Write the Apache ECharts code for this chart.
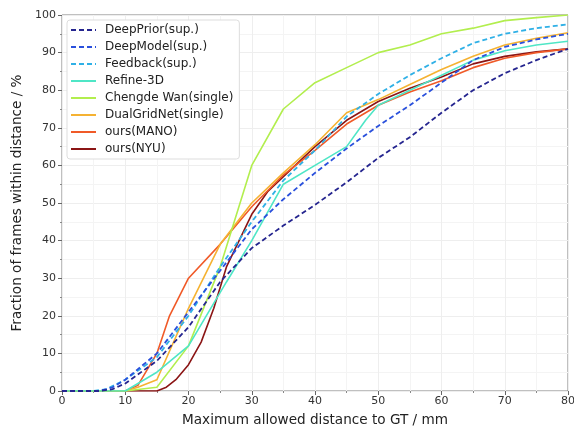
<!DOCTYPE html>
<html lang="en">
<head>
    <meta charset="UTF-8">
    <title>PCK curves</title>
    <script src="https://cdn.jsdelivr.net/npm/echarts@6/dist/echarts.min.js"></script>
    <style>
        *{ margin: 0; padding: 0; }
        body{ width: 574px; height: 428px; overflow: hidden; background: #fff; }
        .container{ width: 574px; height: 428px; }
    </style>
</head>
<body>
<div class="container"></div>
<script>
    // [distance mm, fraction %]
    let deepPrior = [[0,0],[6,0],[8,0.5],[10,2],[15,8],[20,17],[25,29],[30,38],[35,44],[40,49.5],[45,55.5],[50,62],[55,67.5],[60,74],[65,80],[70,84.5],[75,88],[80,91]];
    let deepModel = [[0,0],[6,0],[8,1],[10,3],[15,10],[20,21],[25,32],[30,43],[35,51],[40,58],[45,64.5],[50,70.5],[55,76],[60,82],[65,88],[70,91.5],[75,93.5],[80,95]];
    let feedback = [[0,0],[5,0],[7,0.5],[10,3],[15,9],[20,20],[25,33],[30,45],[35,56],[40,64],[45,73],[50,79],[55,84],[60,88.5],[65,92.5],[70,95],[75,96.5],[80,97.5]];
    let refine3d = [[0,0],[10,0],[12,2],[15,5],[20,12],[26,29],[30,40],[35,55],[40,60],[45,65],[48,72],[50,76],[55,80],[60,84],[65,88],[70,90.5],[75,92],[80,93]];
    let chengdeWan = [[0,0],[10,0],[15,1],[20,12],[25,33],[30,60],[35,75],[40,82],[45,86],[50,90],[55,92],[60,95],[65,96.5],[70,98.5],[75,99.3],[80,100]];
    let dualGridNet = [[0,0],[10,0],[12,1],[15,3],[20,22],[25,39],[30,50],[35,58],[40,65.5],[45,74],[50,77.5],[55,81.5],[60,85.5],[65,89],[70,92],[75,93.8],[80,95.3]];
    let oursMano = [[0,0],[10,0],[12,1.5],[15,10],[17,20],[20,30],[25,39],[30,49],[35,57.5],[40,64],[45,71],[50,76],[55,79.5],[60,82.5],[65,86],[70,88.5],[75,90],[80,91]];
    let oursNyu = [[0,0],[15,0],[16.5,1],[18,3],[20,7],[22,13],[24,22],[26,33],[28,40],[30,47],[32.5,53],[35,57],[40,65],[45,72],[50,77],[55,80.5],[60,83.5],[65,87],[70,89],[75,90.2],[80,91]];

    let names = ['DeepPrior(sup.)','DeepModel(sup.)','Feedback(sup.)','Refine-3D','Chengde Wan(single)','DualGridNet(single)','ours(MANO)','ours(NYU)'];
    let datas = [deepPrior, deepModel, feedback, refine3d, chengdeWan, dualGridNet, oursMano, oursNyu];
    let colors = ['#25258f','#2a50dc','#2fb0e6','#4fe6c6','#b2ee4e','#f5b232','#f05a28','#8b1515'];
    let dashed = [true, true, true, false, false, false, false, false];

    let series = names.map((name, i) => ({
        name: name,
        type: 'line',
        data: datas[i],
        symbol: 'none',
        smooth: false,
        z: 10 - i,
        lineStyle: {
            color: colors[i],
            width: dashed[i] ? 1.8 : 1.6,
            type: dashed[i] ? [5, 3] : 'solid'
        },
        itemStyle: { color: colors[i] }
    }));

    let mycharts = echarts.init(document.querySelector('.container'));

    let options = {
        animation: false,
        textStyle: { fontFamily: 'DejaVu Sans' },
        grid: {
            left: 62, right: 6, top: 15, bottom: 37,
            outerBoundsMode: 'none',
            containLabel: false,
            show: true, borderColor: '#808080', borderWidth: 1
        },
        legend: {
            orient: 'vertical',
            left: 67, top: 20,
            itemWidth: 25, itemHeight: 14, itemGap: 3,
            padding: [3, 6, 3, 3],
            backgroundColor: '#fff',
            borderColor: '#ddd', borderWidth: 1, borderRadius: 3,
            itemStyle: { opacity: 0 },
            textStyle: { fontSize: 12, lineHeight: 14, color: '#222', fontFamily: 'DejaVu Sans', padding: [0, 0, 0, 4] },
            data: names
        },
        xAxis: {
            type: 'value',
            min: 0, max: 80, interval: 10,
            name: 'Maximum allowed distance to GT / mm',
            nameLocation: 'middle', nameGap: 22,
            nameTextStyle: { fontSize: 13.6, color: '#222' },
            axisLine: { show: false },
            axisTick: { show: true, length: 4, lineStyle: { color: '#666' } },
            minorTick: { show: true, splitNumber: 2, length: 2, lineStyle: { color: '#888' } },
            axisLabel: { fontSize: 11, color: '#333', margin: 5 },
            splitLine: { show: true, lineStyle: { color: '#eee', width: 1 } },
            minorSplitLine: { show: true, lineStyle: { color: '#f4f4f4', width: 1 } }
        },
        yAxis: {
            type: 'value',
            min: 0, max: 100, interval: 10,
            name: 'Fraction of frames within distance / %',
            nameLocation: 'middle', nameGap: 38,
            nameTextStyle: { fontSize: 13.6, color: '#222' },
            axisLine: { show: false },
            axisTick: { show: true, length: 4, lineStyle: { color: '#666' } },
            minorTick: { show: true, splitNumber: 2, length: 2, lineStyle: { color: '#888' } },
            axisLabel: { fontSize: 11, color: '#333', margin: 6 },
            splitLine: { show: true, lineStyle: { color: '#eee', width: 1 } },
            minorSplitLine: { show: true, lineStyle: { color: '#f4f4f4', width: 1 } }
        },
        series
    };

    mycharts.setOption(options);
</script>
</body>
</html>
